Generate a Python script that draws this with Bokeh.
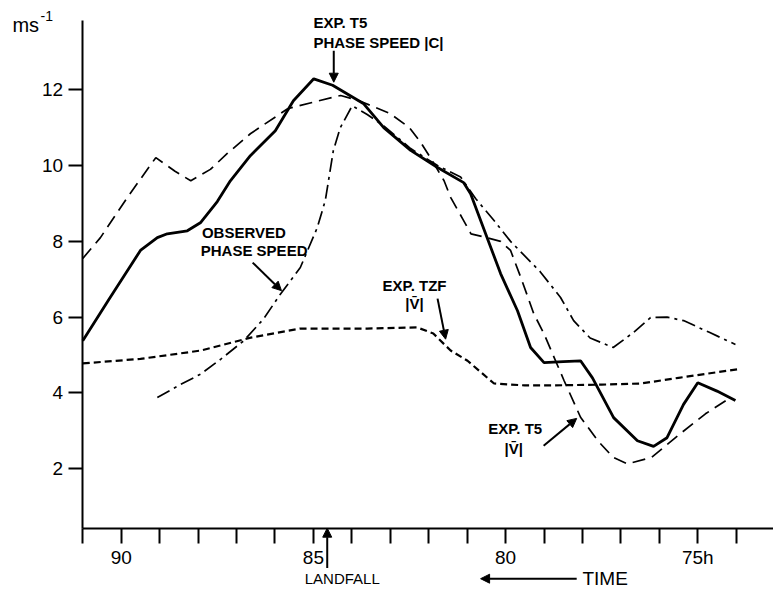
from bokeh.plotting import figure
from bokeh.models import Range1d, FixedTicker, Label, Arrow, NormalHead
from bokeh.embed import file_html
from bokeh.resources import INLINE

# ---- data (time in hours, speed in m/s) ----
solid_t = [91.0, 90.3, 89.5, 89.06, 88.8, 88.28, 87.93, 87.5, 87.16, 86.64, 85.99, 85.52, 84.99, 84.5,
           83.69, 83.17, 82.47, 81.77, 81.09, 80.91, 80.13, 79.69, 79.35, 79.0, 78.5, 78.05, 77.74,
           77.19, 76.57, 76.15, 75.8, 75.37, 75.0, 74.5, 74.02]
solid_v = [5.38, 6.5, 7.76, 8.1, 8.2, 8.28, 8.5, 9.05, 9.6, 10.26, 10.92, 11.71, 12.29, 12.12,
           11.63, 11.0, 10.4, 9.95, 9.55, 9.26, 7.15, 6.17, 5.2, 4.8, 4.83, 4.85, 4.4,
           3.35, 2.74, 2.59, 2.82, 3.7, 4.27, 4.05, 3.8]

t5v_t = [91.0, 90.54, 89.84, 89.1, 88.6, 88.19, 87.68, 87.24, 86.64, 85.67, 84.9, 84.29, 83.78,
         83.0, 82.5, 82.2, 81.95, 81.6, 81.43, 81.12, 80.9, 80.5, 80.13, 79.87, 79.6, 79.27, 79.0,
         78.48, 78.05, 77.6, 77.2, 76.83, 76.2, 75.45, 74.8, 74.15]
t5v_v = [7.55, 8.1, 9.16, 10.21, 9.85, 9.6, 9.9, 10.32, 10.84, 11.5, 11.7, 11.85, 11.7,
         11.37, 11.0, 10.6, 10.2, 9.6, 9.16, 8.6, 8.2, 8.1, 8.0, 7.76, 7.04, 6.1, 5.56,
         4.33, 3.36, 2.74, 2.3, 2.13, 2.3, 2.93, 3.45, 3.88]

obs_t = [89.06, 88.5, 87.93, 87.4, 86.81, 86.3, 85.85, 85.34, 84.9, 84.69, 84.48, 84.3, 83.99,
         83.6, 83.17, 82.47, 81.77, 81.17, 80.78, 80.3, 79.87, 79.1, 78.57, 78.23, 77.8, 77.2,
         76.67, 76.23, 75.8, 75.37, 74.7, 74.02]
obs_v = [3.88, 4.2, 4.5, 4.9, 5.38, 5.95, 6.62, 7.31, 8.36, 9.08, 10.4, 11.0, 11.58,
         11.35, 11.05, 10.45, 10.0, 9.7, 9.13, 8.55, 8.0, 7.2, 6.52, 5.91, 5.45, 5.2,
         5.6, 5.99, 6.0, 5.91, 5.6, 5.28]

tzf_t = [91.0, 89.5, 87.93, 86.63, 85.34, 83.6, 82.3, 81.88, 81.43, 80.99, 80.3, 79.5, 78.83,
         77.5, 76.48, 75.5, 73.88]
tzf_v = [4.78, 4.9, 5.12, 5.46, 5.70, 5.70, 5.73, 5.57, 5.12, 4.85, 4.25, 4.2, 4.2,
         4.22, 4.25, 4.4, 4.64]

y_ticks = [2, 4, 6, 8, 10, 12]
x_ticks = list(range(74, 92))
x_labels = {90: "90", 85: "85", 80: "80", 75: "75h"}

FONT = "Liberation Sans"

X0, X1 = 91.015, 73.03     # visible time axis extent
Y0, Y1 = 0.433, 13.83      # visible speed axis extent

p = figure(width=773, height=589, x_range=Range1d(93.14, 73.03), y_range=Range1d(-1.185, 14.356),
           output_backend="svg", toolbar_location=None, min_border=0)
p.outline_line_color = None
p.grid.visible = False
p.background_fill_color = "white"
p.border_fill_color = "white"

# axes
p.yaxis.ticker = FixedTicker(ticks=y_ticks)
p.xaxis.ticker = FixedTicker(ticks=x_ticks)
p.xaxis.major_label_overrides = {t: x_labels.get(t, "") for t in x_ticks}
p.xaxis.fixed_location = Y0
p.yaxis.fixed_location = X0
p.xaxis.bounds = (X1, X0)
p.yaxis.bounds = (Y0, Y1)
for ax in (p.xaxis[0], p.yaxis[0]):
    ax.axis_line_width = 2
    ax.axis_line_color = "black"
    ax.major_tick_line_width = 2
    ax.major_tick_in = 0
    ax.minor_tick_line_color = None
    ax.major_label_text_font = FONT
    ax.major_label_text_font_size = "19px"
    ax.major_label_text_color = "black"
p.yaxis.major_tick_out = 14
p.yaxis.major_label_standoff = 5
p.xaxis.major_tick_out = 15
p.xaxis.major_label_standoff = 4

# curves
p.line(solid_t, solid_v, line_color="black", line_width=2.8)
p.line(t5v_t, t5v_v, line_color="black", line_width=1.7, line_dash="13 7")
p.line(obs_t, obs_v, line_color="black", line_width=1.7, line_dash="14 5 3 5")
p.line(tzf_t, tzf_v, line_color="black", line_width=2.2, line_dash="7 4")

def lab(x, y, text, size="15px", style="bold", align="left", font=FONT):
    p.add_layout(Label(x=x, y=y, text=text, text_font=font, text_font_size=size,
                       text_font_style=style, text_align=align, text_baseline="middle",
                       text_color="black"))

def arr(x0, y0, x1, y1, size=9, lw=2):
    p.add_layout(Arrow(end=NormalHead(size=size, fill_color="black", line_color="black"),
                       x_start=x0, y_start=y0, x_end=x1, y_end=y1,
                       line_width=lw, line_color="black"))

# annotations
lab(85.0, 13.77, "EXP. T5")
lab(85.0, 13.25, "PHASE SPEED |C|")
arr(84.47, 13.03, 84.47, 12.2)

lab(87.9, 8.23, "OBSERVED")
lab(87.93, 7.76, "PHASE SPEED")
arr(86.58, 7.44, 85.83, 6.7)

lab(83.2, 6.83, "EXP. TZF")
lab(82.37, 6.36, "|V\u0304|", align="center")
arr(81.77, 6.49, 81.56, 5.42)

lab(80.45, 3.06, "EXP. T5")
lab(79.79, 2.53, "|V\u0304|", align="center")
arr(79.01, 2.61, 78.15, 3.33)

lab(84.25, -0.90, "LANDFALL", size="15px", style="normal", align="center")
arr(84.64, -0.62, 84.64, 0.433)

lab(78.0, -0.90, "TIME", size="19px", style="normal")
arr(78.15, -0.90, 80.65, -0.90)

lab(92.83, 13.70, "ms", size="20px", style="normal")
lab(92.1, 13.96, "-1", size="14px", style="normal")

open("out.html", "w").write(file_html(p, INLINE))
